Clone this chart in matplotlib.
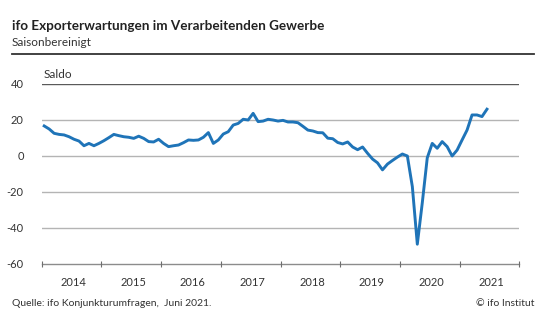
import numpy as np
import matplotlib.pyplot as plt

# ifo Exportererwartungen, monthly saldo Jan 2014 - Jun 2021
saldo = [
    16.7, 15.0, 12.6, 12.0, 11.7, 10.7, 9.3, 8.3, 5.7, 7.0, 5.7, 7.0,      # 2014
    8.5, 10.2, 12.0, 11.3, 10.7, 10.4, 9.8, 11.0, 9.8, 8.0, 7.8, 9.3,      # 2015
    7.0, 5.2, 5.7, 6.1, 7.4, 8.9, 8.7, 8.9, 10.4, 13.0, 7.0, 8.9,          # 2016
    12.2, 13.5, 17.2, 18.1, 20.4, 20.0, 23.7, 19.1, 19.4, 20.4, 20.0, 19.4,  # 2017
    19.8, 18.9, 18.9, 18.5, 16.5, 14.4, 13.9, 13.0, 12.9, 9.9, 9.6, 7.5,   # 2018
    6.7, 7.8, 5.0, 3.5, 5.0, 1.5, -1.7, -3.8, -7.7, -4.5, -2.5, -0.6,      # 2019
    1.1, 0.0, -17.0, -49.0, -26.0, -1.0, 7.0, 4.3, 8.0, 5.2, 0.0, 3.3,     # 2020
    8.9, 14.4, 22.8, 22.8, 21.9, 26.0,                                     # 2021
]
years = list(range(2014, 2022))
yticks = [-60, -40, -20, 0, 20, 40]

x = 2014 + (np.arange(len(saldo)) + 0.5) / 12

plt.rcParams['font.family'] = ['Lato', 'DejaVu Sans']

fig = plt.figure(figsize=(5.52, 3.28), dpi=100)
ax = fig.add_axes([41.7 / 552, 64 / 328, 477.6 / 552, 180 / 328])

for v in yticks[1:-1]:
    ax.axhline(v, color='#b4b4b4', lw=1.0, zorder=1)
ax.axhline(40, color='#5a5a5a', lw=1.0, zorder=1)
ax.axhline(-60, color='#8c8c8c', lw=1.0, zorder=1, clip_on=False)

ax.plot(x, saldo, color='#1f74b8', lw=2.1, solid_joinstyle='round', zorder=3)

ax.set_xlim(2014, 2022)
ax.set_ylim(-60, 40)
for s in ax.spines.values():
    s.set_visible(False)

ax.set_xticks(years + [2022])
ax.set_xticklabels([])
ax.set_xticks([y + 0.53 for y in years], minor=True)
ax.set_xticklabels([str(y) for y in years], minor=True)
ax.tick_params(axis='x', which='major', direction='inout', length=4, color='#6e6e6e', width=0.8)
ax.tick_params(axis='x', which='minor', length=0, pad=9, labelsize=8, labelcolor='#333333')

ax.set_yticks(yticks)
ax.set_yticklabels([str(v) for v in yticks])
ax.tick_params(axis='y', length=0, pad=13, labelsize=8, labelcolor='#333333')

fig.text(12 / 552, 1 - 26 / 328, 'ifo Exporterwartungen im Verarbeitenden Gewerbe',
         fontsize=9.7, fontweight='bold', color='#222222', va='center')
fig.text(12 / 552, 1 - 43 / 328, 'Saisonbereinigt', fontsize=8.5, color='#333333', va='center')
fig.add_artist(plt.Line2D([12 / 552, 534 / 552], [1 - 54 / 328, 1 - 54 / 328],
                          color='#333333', lw=1.3))
fig.text(44 / 552, 1 - 74 / 328, 'Saldo', fontsize=8.5, color='#333333', va='center')

fig.text(12 / 552, 1 - 303 / 328, 'Quelle: ifo Konjunkturumfragen,  Juni 2021.',
         fontsize=7.5, color='#333333', va='center')
fig.text(534 / 552, 1 - 303 / 328, '© ifo Institut', fontsize=7.5, color='#333333',
         va='center', ha='right')

fig.savefig('out.png', dpi=100)
